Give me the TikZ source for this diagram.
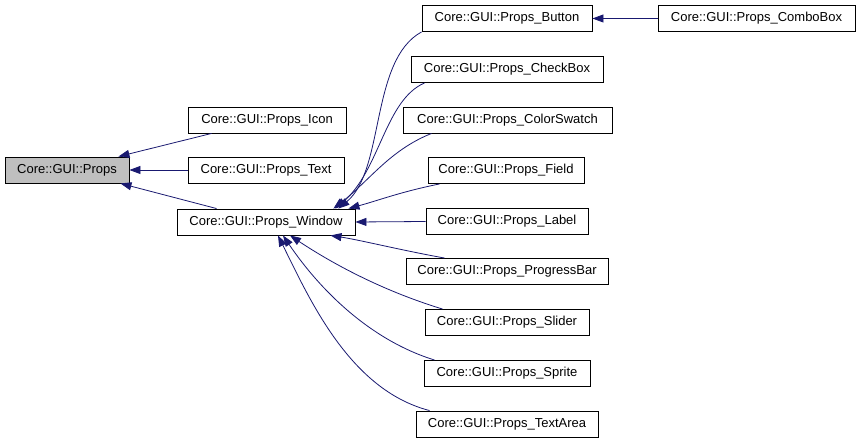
\documentclass[tikz,border=0pt]{standalone}
\usepackage{fontspec}
\setmainfont{Liberation Sans}
\usetikzlibrary{arrows.meta}
\definecolor{edgeblue}{HTML}{191970}
\definecolor{basegrey}{HTML}{BFBFBF}
\tikzset{
  cls/.style={draw=black, line width=0.9pt, fill=white, minimum height=26pt, inner sep=0pt, font=\fontsize{13}{15}\selectfont},
  inh/.style={draw=edgeblue, line width=0.8pt, -{Triangle[length=11pt,width=8pt]}},
}
\begin{document}
\begin{tikzpicture}[x=1pt,y=-1pt]
\useasboundingbox (0,0) rectangle (860,443);
\node[cls, fill=basegrey, minimum width=124pt] (props) at (67,170) {Core::GUI::Props};
\node[cls, minimum width=158pt] (icon) at (267,120) {Core::GUI::Props\_Icon};
\node[cls, minimum width=156pt] (text) at (266,170) {Core::GUI::Props\_Text};
\node[cls, minimum width=178pt] (win) at (266,222) {Core::GUI::Props\_Window};
\node[cls, minimum width=170pt] (button) at (507,18.5) {Core::GUI::Props\_Button};
\node[cls, minimum width=197pt] (combo) at (756.5,18.5) {Core::GUI::Props\_ComboBox};
\node[cls, minimum width=192pt] (check) at (507,69.5) {Core::GUI::Props\_CheckBox};
\node[cls, minimum width=209pt] (swatch) at (507.5,120) {Core::GUI::Props\_ColorSwatch};
\node[cls, minimum width=156pt] (field) at (506,170.5) {Core::GUI::Props\_Field};
\node[cls, minimum width=162pt] (label) at (507,221.5) {Core::GUI::Props\_Label};
\node[cls, minimum width=202pt] (progress) at (507,271.5) {Core::GUI::Props\_ProgressBar};
\node[cls, minimum width=164pt] (slider) at (507,322.5) {Core::GUI::Props\_Slider};
\node[cls, minimum width=166pt] (sprite) at (507,373.5) {Core::GUI::Props\_Sprite};
\node[cls, minimum width=182pt] (textarea) at (507,424) {Core::GUI::Props\_TextArea};
% edges to Props
\draw[inh] ([xshift=24pt]icon.south west) -- ([xshift=-11pt]props.north east);
\draw[inh] (text.west) -- (props.east);
\draw[inh] ([xshift=40pt]win.north west) -- ([xshift=-9pt]props.south east);
% edge to Button
\draw[inh] (combo.west) -- (button.east);
% edges to Window
\draw[inh] (button.south west) .. controls (370,60) and (385,170) .. ([xshift=-17pt]win.north east);
\draw[inh] ([xshift=14pt]check.south west) .. controls (385,100) and (380,170) .. ([xshift=-20pt]win.north east);
\draw[inh] ([xshift=29pt]swatch.south west) .. controls (390,150) and (370,180) .. ([xshift=-22pt]win.north east);
\draw[inh] ([xshift=12pt]field.south west) .. controls (400,192) and (380,200) .. ([xshift=-7pt]win.north east);
\draw[inh] (label.west) -- (win.east);
\draw[inh] ([xshift=39pt]progress.north west) .. controls (400,250) and (360,240) .. ([xshift=-25pt]win.south east);
\draw[inh] ([xshift=18pt]slider.north west) .. controls (380,290) and (330,262) .. ([xshift=24pt]win.south);
\draw[inh] ([xshift=11pt]sprite.north west) .. controls (370,340) and (320,290) .. ([xshift=17pt]win.south);
\draw[inh] ([xshift=14pt]textarea.north west) .. controls (350,390) and (310,300) .. ([xshift=12pt]win.south);
\end{tikzpicture}
\end{document}
